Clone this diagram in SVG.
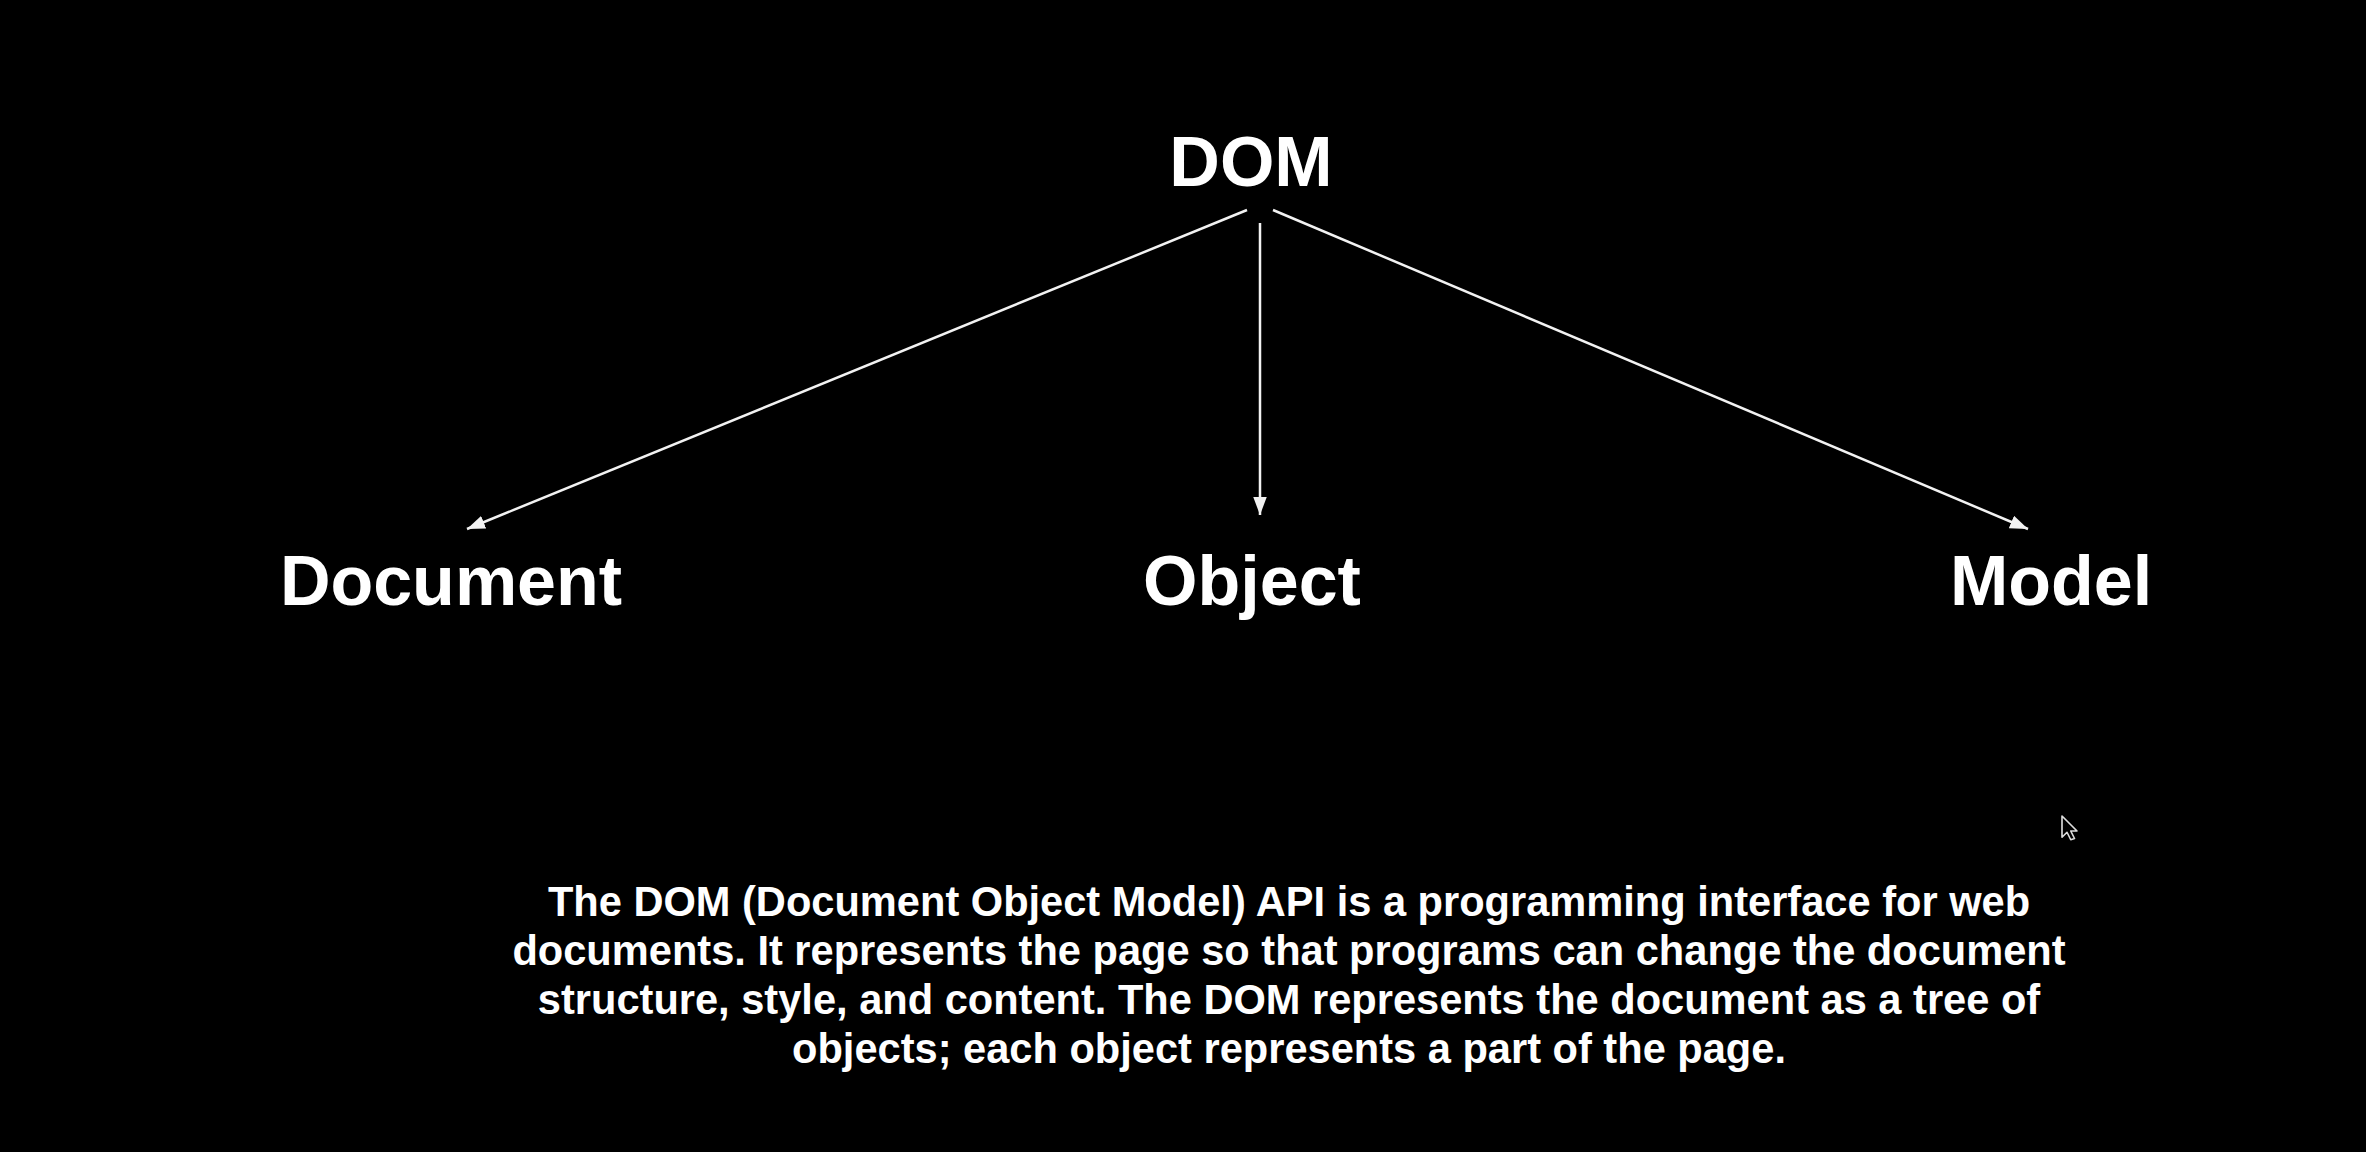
<svg xmlns="http://www.w3.org/2000/svg" width="2366" height="1152" viewBox="0 0 2366 1152">
<style>
.lbl{font-family:"Liberation Sans",Arial,Helvetica,sans-serif;font-weight:bold;fill:#fff;text-anchor:middle}
.big{font-size:70px}
.para{font-size:41.6px}
.conn{stroke:#f2f2f2;stroke-width:2.5;fill:none;marker-end:url(#ah)}
</style>
<defs>
<marker id="ah" markerUnits="userSpaceOnUse" markerWidth="18" markerHeight="14" refX="16" refY="6" orient="auto" viewBox="0 0 16 12">
<path d="M0,0 L16,6 L0,12 z" fill="#f2f2f2"/>
</marker>
</defs>
<rect width="2366" height="1152" fill="#000"/>
<g id="connectors">
<line class="conn" x1="1247" y1="210" x2="467" y2="529"/>
<line class="conn" x1="1260" y1="223" x2="1260" y2="515"/>
<line class="conn" x1="1273" y1="210" x2="2028" y2="529"/>
</g>
<g id="node-dom"><text class="lbl big" x="1251" y="186">DOM</text></g>
<g id="node-document"><text class="lbl big" x="451" y="605">Document</text></g>
<g id="node-object"><text class="lbl big" x="1252" y="605">Object</text></g>
<g id="node-model"><text class="lbl big" x="2051" y="605">Model</text></g>
<g id="description">
<text class="lbl para" x="1289" y="916">The DOM (Document Object Model) API is a programming interface for web</text>
<text class="lbl para" x="1289" y="965">documents. It represents the page so that programs can change the document</text>
<text class="lbl para" x="1289" y="1014">structure, style, and content. The DOM represents the document as a tree of</text>
<text class="lbl para" x="1289" y="1063">objects; each object represents a part of the page.</text>
</g>
<g id="cursor" transform="translate(2062,816) scale(1.25)">
<path d="M0,0 L0,17 L4,13 L7,19 L10,18 L7,12 L12,12 z" fill="#000" stroke="#ddd" stroke-width="1.3" stroke-linejoin="round"/>
</g>
</svg>
